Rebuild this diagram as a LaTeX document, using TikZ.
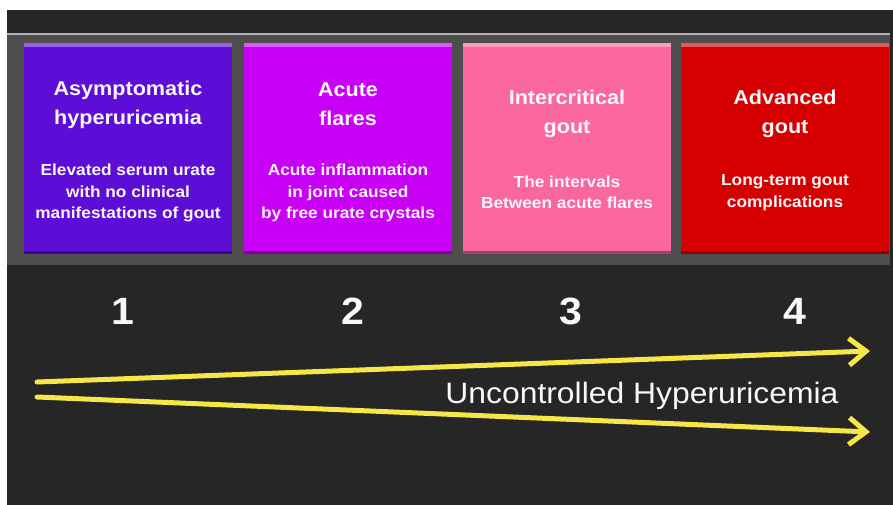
\documentclass[tikz,border=0pt]{standalone}
\usepackage{fontspec}
\setmainfont{Liberation Sans}
\newfontfamily\boxfont[FakeStretch=1.08]{Liberation Sans}
\usetikzlibrary{arrows.meta}
\definecolor{bgdark}{HTML}{262626}
\definecolor{bandgrey}{HTML}{4E4E4E}
\definecolor{cOne}{RGB}{92,14,214}
\definecolor{cTwo}{RGB}{200,0,245}
\definecolor{cThree}{RGB}{250,102,158}
\definecolor{cFour}{RGB}{214,0,0}
\definecolor{arrowyellow}{RGB}{246,230,70}
\definecolor{txtwhite}{RGB}{250,246,250}
\begin{document}
\begin{tikzpicture}[x=1pt,y=-1pt,
  stagebox/.style={minimum width=208pt,minimum height=210pt,inner sep=0pt,draw=none},
  titletext/.style={text=txtwhite,align=center,font=\boxfont\bfseries\fontsize{20}{29}\selectfont},
  desctext/.style={text=txtwhite,align=center,font=\boxfont\bfseries\fontsize{16}{21.5}\selectfont},
  numtext/.style={text=txtwhite,font=\boxfont\bfseries\fontsize{38}{40}\selectfont},
  bigtext/.style={text=txtwhite,font=\boxfont\fontsize{29.5}{32}\selectfont},
  arrowshadow/.style={line width=8pt,draw=black!85,line cap=round,-{Straight Barb[length=17pt,width=27pt]}},
  yarrow/.style={line width=5pt,draw=arrowyellow,line cap=round,-{Straight Barb[length=17pt,width=27pt]}}]
\useasboundingbox (0,0) rectangle (893,505);
\fill[white] (0,0) rectangle (893,505);
\fill[bgdark] (7,10) rectangle (893,505);
\fill[bandgrey] (7,33) rectangle (890,265);
\fill[gray!60] (7,33) rectangle (890,35);
% boxes
\node[stagebox,fill=cOne]   (b1) at (128,148.5) {};
\node[stagebox,fill=cTwo]   (b2) at (348,148.5) {};
\node[stagebox,fill=cThree] (b3) at (567,148.5) {};
\node[stagebox,fill=cFour]  (b4) at (785,148.5) {};
\foreach \b/\c in {b1/cOne,b2/cTwo,b3/cThree,b4/cFour}{
  \fill[\c!65!white] (\b.north west) rectangle ([yshift=-4pt]\b.north east);
  \fill[\c!65!black] ([yshift=3pt]\b.south west) rectangle (\b.south east);
}
% texts
\node[titletext] (t1) at (128,105) {Asymptomatic\\hyperuricemia};
\node[desctext]  (d1) at (128,193) {Elevated serum urate\\with no clinical\\manifestations of gout};
\node[titletext] (t2) at (348,104) {Acute\\flares};
\node[desctext]  (d2) at (348,193) {Acute inflammation\\in joint caused\\by free urate crystals};
\node[titletext] (t3) at (567,114) {Intercritical\\gout};
\node[desctext]  (d3) at (567,192.5) {The intervals\\Between acute flares};
\node[titletext] (t4) at (785,114) {Advanced\\gout};
\node[desctext]  (d4) at (785,192.5) {Long-term gout\\complications};
% numbers
\node[numtext] (n1) at (123,311) {1};
\node[numtext] (n2) at (353,311) {2};
\node[numtext] (n3) at (571,311) {3};
\node[numtext] (n4) at (795,311) {4};
% arrows
\coordinate (as1) at (37,382);
\coordinate (ae1) at (870,351);
\coordinate (as2) at (37,397);
\coordinate (ae2) at (870,432);
\draw[arrowshadow] (as1) -- (ae1);
\draw[arrowshadow] (as2) -- (ae2);
\draw[yarrow] (as1) -- (ae1);
\draw[yarrow] (as2) -- (ae2);
\node[bigtext,anchor=base] (lbl) at (642,403) {Uncontrolled Hyperuricemia};
\end{tikzpicture}
\end{document}
